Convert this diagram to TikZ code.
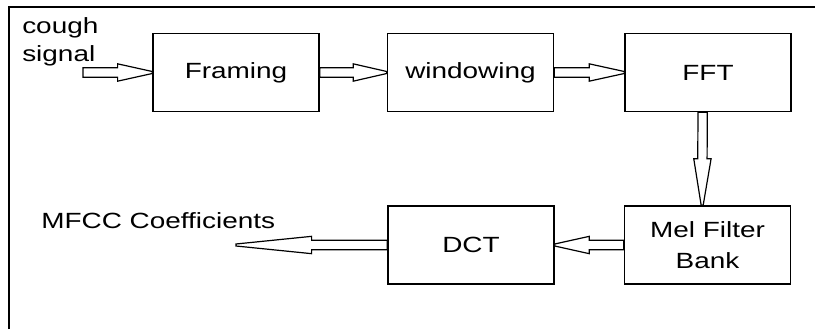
\documentclass[tikz,border=0pt]{standalone}
\usepackage{fontspec}
\setmainfont[FakeStretch=1.27]{Liberation Sans}
\usetikzlibrary{calc}
\tikzset{
  stage/.style={draw, line width=1.1pt, minimum width=124.5pt, minimum height=58.5pt, inner sep=0pt, align=center},
  tag/.style={inner sep=0pt, anchor=base west},
  hollow/.style={line width=0.9pt, to path={
    let \p1=($(\tikztotarget)-(\tikztostart)$),
        \n1={veclen(\x1,\y1)}, \n2={atan2(\y1,\x1)}, \n3={(1-#1)*\n1} in
    ([shift={(\tikztostart)},rotate=\n2]0pt,3.5pt)
    -- ([shift={(\tikztostart)},rotate=\n2]\n3*1pt,3.5pt)
    -- ([shift={(\tikztostart)},rotate=\n2]\n3*1pt,6.5pt)
    -- ([shift={(\tikztostart)},rotate=\n2]\n1*1pt,0.75pt)
    -- ([shift={(\tikztostart)},rotate=\n2]\n1*1pt,-0.75pt)
    -- ([shift={(\tikztostart)},rotate=\n2]\n3*1pt,-6.5pt)
    -- ([shift={(\tikztostart)},rotate=\n2]\n3*1pt,-3.5pt)
    -- ([shift={(\tikztostart)},rotate=\n2]0pt,-3.5pt) -- cycle}},
  hollow/.default=0.5
}
\begin{document}
\begin{tikzpicture}[x=0.75pt,y=-0.75pt]\fontsize{16.5}{20}\selectfont
\useasboundingbox (0,0) rectangle (815,329);
\draw[line width=1.1pt] (9,329) -- (9,7) -- (815,7);
% stages
\node[stage] (framing) at (236,72.5) {Framing};
\node[stage] (windowing) at (470.5,72.5) {windowing};
\node[stage] (fft) at (708,72.5) {FFT};
\node[stage, font=\fontsize{16.5}{23}\selectfont] (mel) at (707.5,245) {Mel Filter\\Bank};
\node[stage] (dct) at (471,245) {DCT};
% texts
\node[tag] (cough) at (22,33) {cough};
\node[tag] (signal) at (22,61) {signal};
\node[tag] (mfcc) at (41,228) {MFCC Coefficients};
\coordinate (in) at (83,72.5);
\coordinate (out) at (236,245);
% arrows
\draw[hollow] (in) to (framing.west);
\draw[hollow] (framing.east) to (windowing.west);
\draw[hollow] (windowing.east) to (fft.west);
\draw[hollow] ([xshift=-4pt]fft.south) to ([xshift=-4pt]mel.north);
\draw[hollow] (mel.west) to (dct.east);
\draw[hollow] (dct.west) to (out);
\end{tikzpicture}
\end{document}
